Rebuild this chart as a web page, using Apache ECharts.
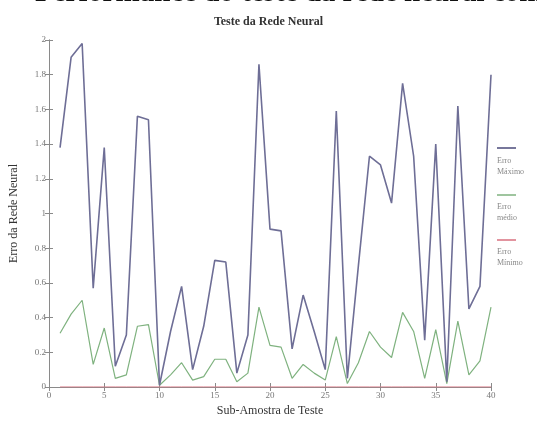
<!DOCTYPE html>
<html>
<head>
<meta charset="utf-8">
<script src="https://cdn.jsdelivr.net/npm/echarts@6/dist/echarts.min.js"></script>
<style>html,body{margin:0;padding:0;background:#fff;}#c{width:537px;height:423px;}</style>
</head>
<body>
<div id="c"></div>
<script>
var samples = [1,2,3,4,5,6,7,8,9,10,11,12,13,14,15,16,17,18,19,20,21,22,23,24,25,26,27,28,29,30,31,32,33,34,35,36,37,38,39,40];
var erroMaximo = [1.38,1.9,1.98,0.57,1.38,0.12,0.3,1.56,1.54,0.01,0.32,0.58,0.1,0.35,0.73,0.72,0.08,0.3,1.86,0.91,0.9,0.22,0.53,0.32,0.1,1.59,0.05,0.7,1.33,1.28,1.06,1.75,1.33,0.27,1.4,0.03,1.62,0.45,0.58,1.8];
var erroMedio = [0.31,0.42,0.5,0.13,0.34,0.05,0.07,0.35,0.36,0.01,0.07,0.14,0.04,0.06,0.16,0.16,0.03,0.08,0.46,0.24,0.23,0.05,0.13,0.08,0.04,0.29,0.02,0.14,0.32,0.23,0.17,0.43,0.32,0.05,0.33,0.02,0.38,0.07,0.15,0.46];
var erroMinimo = [0,0,0,0,0,0,0,0,0,0,0,0,0,0,0,0,0,0,0,0,0,0,0,0,0,0,0,0,0,0,0,0,0,0,0,0,0,0,0,0];
var yTickLabels = {"0":"0","0.2":"0.2","0.4":"0.4","0.6":"0.6","0.8":"0.8","1":"1","1.2":"1.2","1.4":"1.4","1.6":"1.6","1.8":"1.8","2":"2"};

function pairs(vals){ return samples.map(function(s,i){ return [s, vals[i]]; }); }

var serif = '"Liberation Serif","DejaVu Serif",serif';
var axisGray = '#8a8a8a';
var chart = echarts.init(document.getElementById('c'), null, {renderer:'canvas'});
chart.setOption({
  animation:false,
  backgroundColor:'#fff',
  title:{
    text:'Teste da Rede Neural', left:'center', top:11,
    textStyle:{fontFamily:serif, fontSize:12, fontWeight:'bold', color:'#333'}
  },
  grid:{left:47, right:46, top:40, bottom:36},
  xAxis:[{
    type:'value', min:0, max:40, interval:5,
    name:'Sub-Amostra de Teste', nameLocation:'middle', nameGap:17,
    nameTextStyle:{fontFamily:serif, fontSize:12, color:'#333'},
    axisLine:{lineStyle:{color:axisGray}},
    axisTick:{inside:true, length:4, lineStyle:{color:axisGray}},
    axisLabel:{fontFamily:serif, fontSize:9, color:'#777', margin:4},
    splitLine:{show:false}
  },{
    type:'value', min:0, max:40, interval:5, position:'top',
    axisLine:{lineStyle:{color:axisGray}},
    axisTick:{inside:true, length:4, lineStyle:{color:axisGray}},
    axisLabel:{show:false}, splitLine:{show:false}
  }],
  yAxis:[{
    type:'value', min:0, max:2, interval:0.2,
    name:'Erro da Rede Neural', nameLocation:'middle', nameGap:29, nameRotate:90,
    nameTextStyle:{fontFamily:serif, fontSize:12, color:'#333'},
    axisLine:{show:true, lineStyle:{color:axisGray}},
    axisTick:{show:true, inside:true, length:4, lineStyle:{color:axisGray}},
    axisLabel:{fontFamily:serif, fontSize:9, color:'#777', margin:3,
      formatter:function(v){ var k = String(+v.toFixed(1)); return yTickLabels[k] !== undefined ? yTickLabels[k] : k; }},
    splitLine:{show:false}
  },{
    type:'value', min:0, max:2, interval:0.2, position:'right',
    axisLine:{show:true, lineStyle:{color:axisGray}},
    axisTick:{show:true, inside:true, length:4, lineStyle:{color:axisGray}},
    axisLabel:{show:false}, splitLine:{show:false}
  }],
  series:[
    {name:'Erro Mínimo', type:'line', data:pairs(erroMinimo), symbol:'none', lineStyle:{color:'#d9707f', width:1}, z:1},
    {name:'Erro médio', type:'line', data:pairs(erroMedio), symbol:'none', lineStyle:{color:'#7fb27f', width:1.2}, z:2},
    {name:'Erro Máximo', type:'line', data:pairs(erroMaximo), symbol:'none', lineStyle:{color:'#6e6e96', width:1.6}, z:3}
  ],
  graphic:[
    {type:'text', x:35, y:8, style:{text:'Performance do teste da rede neural com', font:'bold 29px '+serif, fill:'#111', verticalAlign:'bottom'}},
    {type:'line', shape:{x1:497,y1:148,x2:516,y2:148}, style:{stroke:'#4a4a7a', lineWidth:1.5}},
    {type:'text', left:497, top:155, style:{text:'Erro\nMáximo', font:'8px '+serif, fill:'#888', lineHeight:11}},
    {type:'line', shape:{x1:497,y1:195,x2:516,y2:195}, style:{stroke:'#7fb27f', lineWidth:1.5}},
    {type:'text', left:497, top:201, style:{text:'Erro\nmédio', font:'8px '+serif, fill:'#888', lineHeight:11}},
    {type:'line', shape:{x1:497,y1:240,x2:516,y2:240}, style:{stroke:'#d9707f', lineWidth:1.5}},
    {type:'text', left:497, top:246, style:{text:'Erro\nMínimo', font:'8px '+serif, fill:'#888', lineHeight:11}}
  ]
});
</script>
</body>
</html>
